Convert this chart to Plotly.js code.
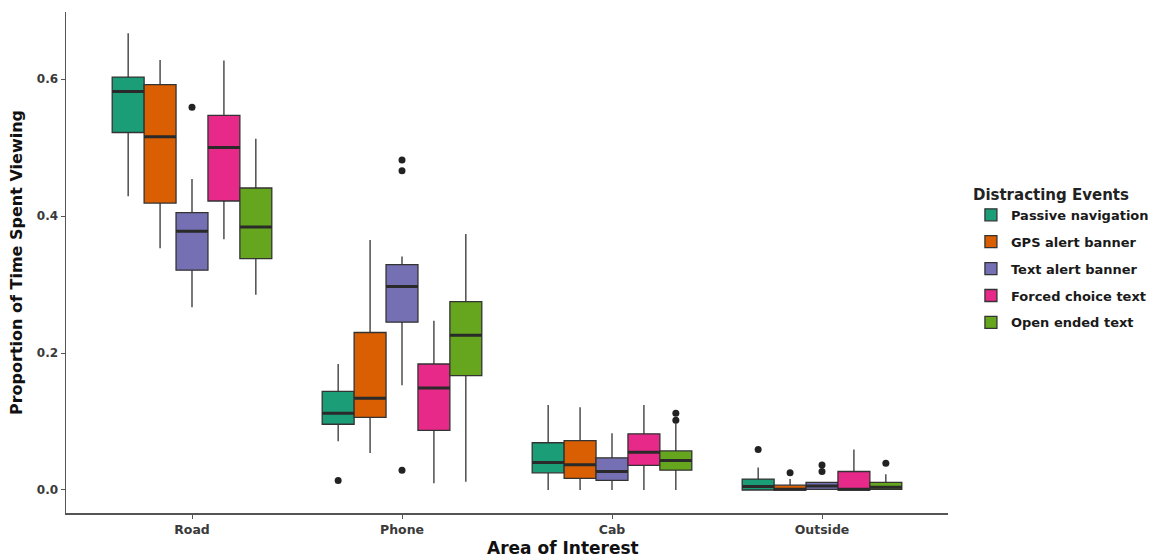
<!DOCTYPE html>
<html>
<head>
<meta charset="utf-8">
<script src="https://cdn.plot.ly/plotly-3.0.1.min.js"></script>
<style>html,body{margin:0;padding:0;background:#fff;}#chart{width:1157px;height:557px;}</style>
</head>
<body>
<div id="chart"></div>
<script>
var categories = ['Road', 'Phone', 'Cab', 'Outside'];
var seriesNames = ['Passive navigation', 'GPS alert banner', 'Text alert banner', 'Forced choice text', 'Open ended text'];
var seriesColors = ['#1B9E77', '#D95F02', '#7570B3', '#E7298A', '#66A61E'];

// per series: values for [Road, Phone, Cab, Outside]
var passiveLow    = [0.429, 0.071, 0.000, 0.000];
var passiveQ1     = [0.522, 0.096, 0.025, 0.000];
var passiveMedian = [0.582, 0.112, 0.040, 0.005];
var passiveQ3     = [0.603, 0.144, 0.069, 0.016];
var passiveHigh   = [0.667, 0.184, 0.124, 0.033];

var gpsLow    = [0.353, 0.054, 0.000, 0.000];
var gpsQ1     = [0.419, 0.106, 0.017, 0.000];
var gpsMedian = [0.516, 0.134, 0.037, 0.001];
var gpsQ3     = [0.592, 0.230, 0.072, 0.007];
var gpsHigh   = [0.628, 0.365, 0.121, 0.016];

var textLow    = [0.267, 0.153, 0.000, 0.000];
var textQ1     = [0.321, 0.245, 0.014, 0.001];
var textMedian = [0.378, 0.297, 0.027, 0.006];
var textQ3     = [0.405, 0.329, 0.047, 0.011];
var textHigh   = [0.454, 0.341, 0.083, 0.011];

var forcedLow    = [0.366, 0.010, 0.000, 0.000];
var forcedQ1     = [0.422, 0.087, 0.036, 0.000];
var forcedMedian = [0.500, 0.149, 0.055, 0.001];
var forcedQ3     = [0.547, 0.184, 0.082, 0.027];
var forcedHigh   = [0.627, 0.247, 0.124, 0.059];

var openLow    = [0.285, 0.012, 0.000, 0.000];
var openQ1     = [0.338, 0.167, 0.029, 0.001];
var openMedian = [0.384, 0.226, 0.043, 0.004];
var openQ3     = [0.441, 0.275, 0.057, 0.011];
var openHigh   = [0.513, 0.374, 0.097, 0.023];

// outliers: category and value lists per series
var passiveOutX = ['Phone', 'Outside'];
var passiveOutY = [0.014, 0.059];
var gpsOutX = ['Outside'];
var gpsOutY = [0.025];
var textOutX = ['Road', 'Phone', 'Phone', 'Phone', 'Outside', 'Outside'];
var textOutY = [0.559, 0.482, 0.466, 0.029, 0.0365, 0.027];
var forcedOutX = ['Road'];
var forcedOutY = [null];
var openOutX = ['Cab', 'Cab', 'Outside'];
var openOutY = [0.112, 0.102, 0.039];

var yTickVals = [0.0, 0.2, 0.4, 0.6];
var yTickText = ['0.0', '0.2', '0.4', '0.6'];

var xTitle = 'Area of Interest';
var yTitle = 'Proportion of Time Spent Viewing';
var legendTitle = 'Distracting Events';

var stats = [
  [passiveLow, passiveQ1, passiveMedian, passiveQ3, passiveHigh],
  [gpsLow, gpsQ1, gpsMedian, gpsQ3, gpsHigh],
  [textLow, textQ1, textMedian, textQ3, textHigh],
  [forcedLow, forcedQ1, forcedMedian, forcedQ3, forcedHigh],
  [openLow, openQ1, openMedian, openQ3, openHigh]
];
var outliers = [
  [passiveOutX, passiveOutY], [gpsOutX, gpsOutY], [textOutX, textOutY],
  [forcedOutX, forcedOutY], [openOutX, openOutY]
];

var traces = [];
for (var i = 0; i < seriesNames.length; i++) {
  var s = stats[i];
  traces.push({
    type: 'box',
    name: seriesNames[i],
    x: categories,
    lowerfence: s[0], q1: s[1], median: s[2], q3: s[3], upperfence: s[4],
    fillcolor: seriesColors[i],
    line: {color: '#333333', width: 1.3},
    whiskerwidth: 0,
    boxpoints: false,
    offsetgroup: 'g' + i,
    legendgroup: 'g' + i,
    hoverinfo: 'y'
  });
}
// thicker median lines (degenerate boxes at the median)
for (var k = 0; k < seriesNames.length; k++) {
  var m = stats[k][2];
  traces.push({
    type: 'box',
    name: seriesNames[k] + ' median',
    x: categories,
    lowerfence: m, q1: m, median: m, q3: m, upperfence: m,
    fillcolor: 'rgba(0,0,0,0)',
    line: {color: '#2a2a2a', width: 3},
    whiskerwidth: 0,
    boxpoints: false,
    offsetgroup: 'g' + k,
    showlegend: false,
    hoverinfo: 'skip'
  });
}
for (var j = 0; j < seriesNames.length; j++) {
  traces.push({
    type: 'scatter',
    mode: 'markers',
    x: outliers[j][0],
    y: outliers[j][1],
    offsetgroup: 'g' + j,
    marker: {color: '#222222', size: 7},
    showlegend: false,
    hoverinfo: 'y'
  });
}

var layout = {
  width: 1157, height: 557,
  margin: {l: 66, r: 209, t: 12, b: 44, autoexpand: false},
  paper_bgcolor: '#ffffff', plot_bgcolor: '#ffffff',
  boxmode: 'group', boxgap: 0.24, boxgroupgap: 0,
  scattermode: 'group', scattergap: 0.24,
  font: {family: 'DejaVu Sans', color: '#222'},
  xaxis: {
    type: 'category', categoryorder: 'array', categoryarray: categories,
    range: [-0.6, 3.6],
    showline: true, linecolor: '#555', linewidth: 1.5,
    ticks: 'outside', ticklen: 4, tickcolor: '#555',
    showgrid: false, zeroline: false,
    tickfont: {family: 'DejaVu Sans', size: 12.5, color: '#3a3a3a', weight: 'bold'}
  },
  yaxis: {
    range: [-0.0336, 0.698],
    tickvals: yTickVals, ticktext: yTickText,
    showline: true, linecolor: '#555', linewidth: 1.5,
    ticks: 'outside', ticklen: 4, tickcolor: '#555',
    showgrid: false, zeroline: false,
    tickfont: {family: 'DejaVu Sans', size: 12, color: '#3a3a3a', weight: 'bold'},
    title: {text: '<b>' + yTitle + '</b>', font: {family: 'DejaVu Sans', size: 16, color: '#111'}, standoff: 10}
  },
  annotations: [{
    text: '<b>' + xTitle + '</b>',
    xref: 'paper', yref: 'paper', x: 0.5635, y: -0.07,
    xanchor: 'center', yanchor: 'middle', showarrow: false,
    font: {family: 'DejaVu Sans', size: 17, color: '#111'}
  }],
  legend: {
    x: 1.026, xanchor: 'left', y: 0.664, yanchor: 'top',
    title: {text: '<b>' + legendTitle + '</b>', font: {family: 'DejaVu Sans', size: 15, color: '#222'}},
    font: {family: 'DejaVu Sans', size: 13, color: '#1a1a1a', weight: 'bold'},
    tracegroupgap: 7,
    bgcolor: 'rgba(0,0,0,0)'
  },
  showlegend: true
};

Plotly.newPlot('chart', traces, layout, {displayModeBar: false, staticPlot: true});
</script>
</body>
</html>
